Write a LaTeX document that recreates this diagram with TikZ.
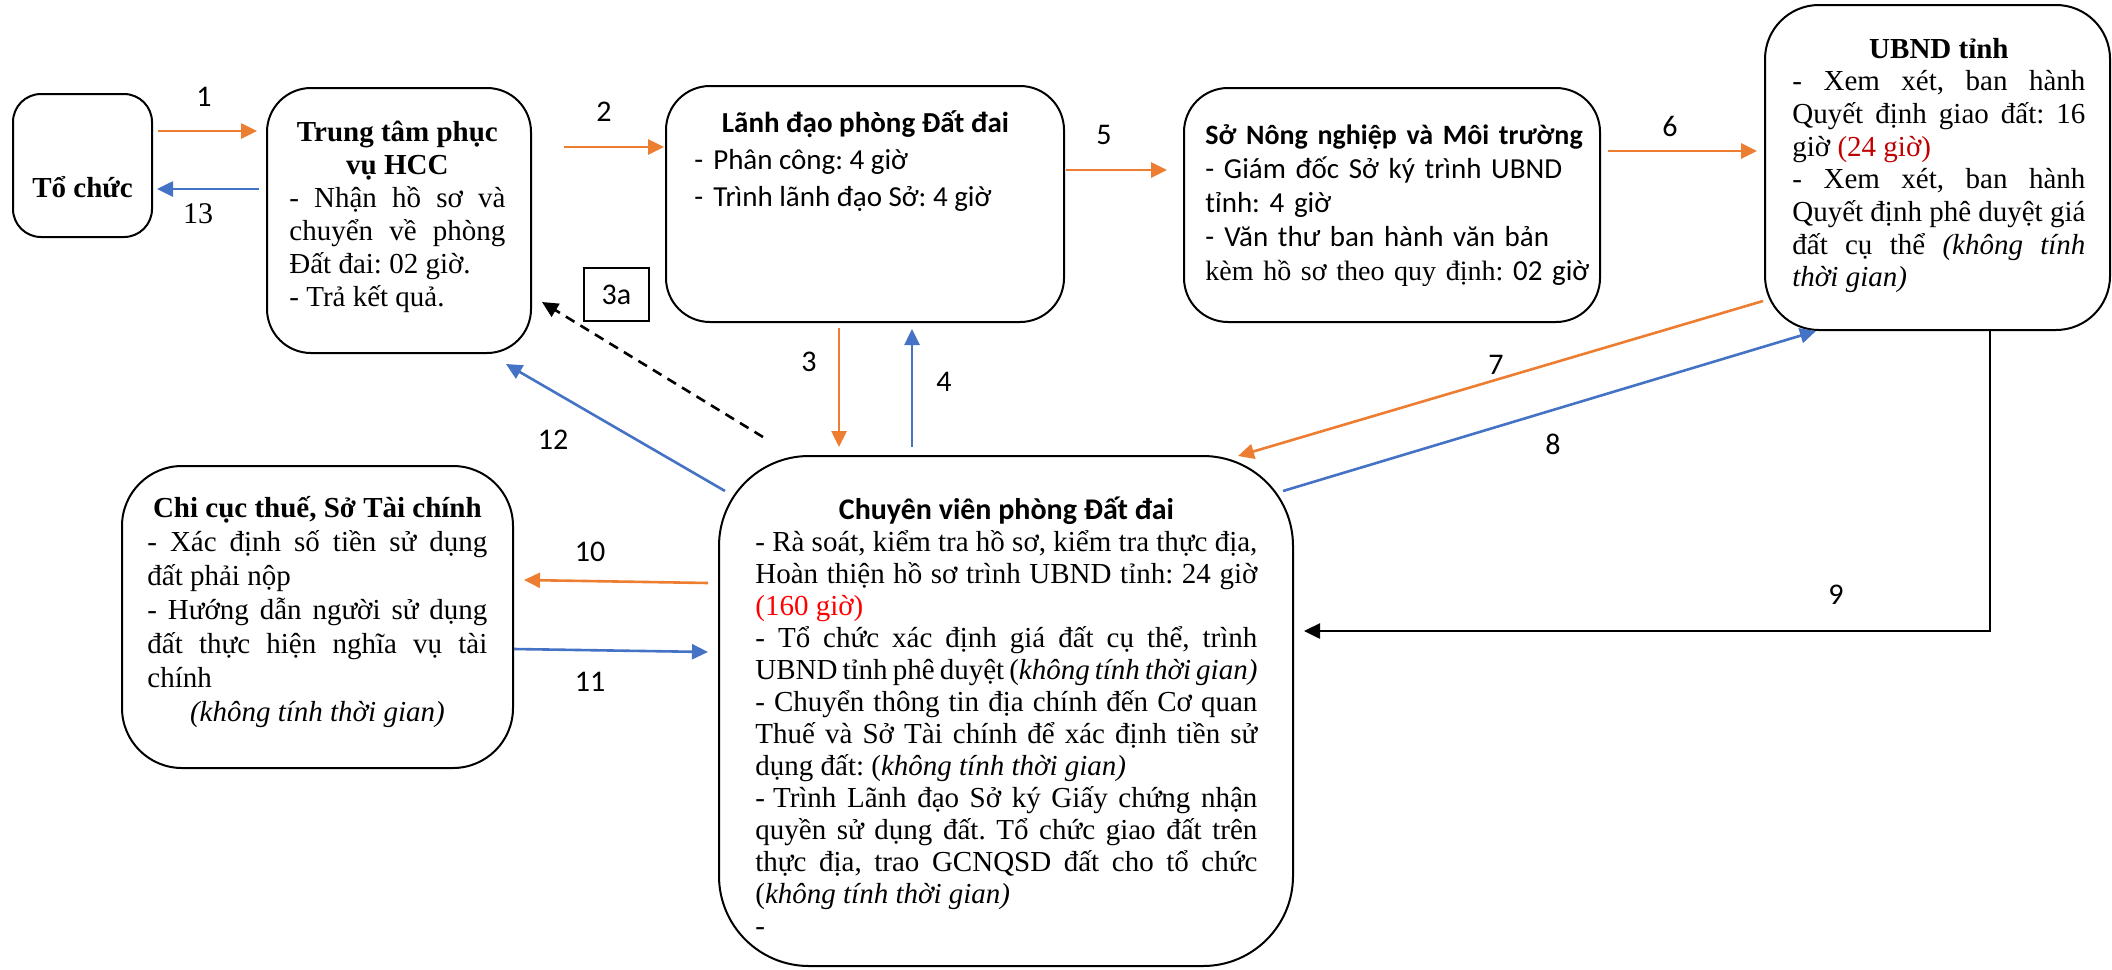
\documentclass[tikz,border=0pt]{standalone}
\usepackage{fontspec}
\setmainfont{Liberation Serif}
\newfontfamily\calibri{Carlito}
\usepackage{xcolor}
\usetikzlibrary{arrows.meta,calc}
\definecolor{orangeA}{HTML}{ED7D31}
\definecolor{blueA}{HTML}{4472C4}
\definecolor{redA}{HTML}{C00000}
\hyphenpenalty=10000
\tolerance=10000
\frenchspacing
\tikzset{
	box/.style={draw,line width=1pt,rounded corners=#1,inner sep=0pt},
	box/.default=22pt,
	txt/.style={inner sep=0pt,anchor=base west,text width=#1,align=justify},
	lbl/.style={inner sep=0pt,font=\calibri\fontsize{15}{18}\selectfont},
	flow/.style={line width=1.3pt,-{Triangle[length=8pt,width=7.5pt]}},
}

\begin{document}
\begin{tikzpicture}[x=0.5pt,y=-0.5pt]
		\useasboundingbox (0,0) rectangle (2112,969);
		% boxes
		\node[box=14pt,minimum width=69.5pt,minimum height=71.5pt] (TC) at (82.5,165.5) {};
		\node[box,minimum width=132pt,minimum height=132.5pt] (TT) at (399,220.5) {};
		\node[box,minimum width=199pt,minimum height=118pt] (LD) at (865,204) {};
		\node[box,minimum width=208pt,minimum height=117pt] (SNN) at (1392,205) {};
		\node[box=27pt,minimum width=172.5pt,minimum height=162.5pt] (UB) at (1937.5,167.5) {};
		\node[box=30pt,minimum width=195.5pt,minimum height=151pt] (CC) at (317.5,617) {};
		\node[box=45pt,minimum width=287pt,minimum height=255pt] (CV) at (1006,711) {};
		\node[draw,line width=0.75pt,minimum width=32.5pt,minimum height=26.5pt,
			font=\calibri\fontsize{15}{18}\selectfont] (B3a) at (616.5,294.5) {3a};
		%
		\node[inner sep=0pt,anchor=base,font=\bfseries\fontsize{14.5}{16}\selectfont] (TCt) at (82.5,197) {Tổ chức};
		\node[txt=108pt,font=\fontsize{14.5}{16.5}\selectfont] (TTt) at (289,141)
			{{\centering\bfseries Trung tâm phục\\ vụ HCC\par}
			- Nhận hồ sơ và\linebreak chuyển về phòng\linebreak Đất đai: 02 giờ.\\
			- Trả kết quả.};
		\node[txt=171pt,font=\calibri\fontsize{14.5}{18.5}\selectfont] (LDt) at (694,132)
			{{\centering\bfseries Lãnh đạo phòng Đất đai\par}
			-\hspace{5pt}Phân công: 4 giờ\\
			-\hspace{5pt}Trình lãnh đạo Sở: 4 giờ};
		\node[txt=250pt,align=left,font=\calibri\fontsize{14.5}{17}\selectfont] (SNNt) at (1205,144)
			{{\bfseries\fontsize{14}{17}\selectfont Sở Nông nghiệp và Môi trường}\\
			- Giám đốc Sở ký trình UBND\\
			tỉnh: 4 giờ\\
			-\hspace{5pt}Văn thư ban hành văn bản\\
			{\rmfamily\fontsize{14}{17}\selectfont kèm hồ sơ theo quy định: }02 giờ};
		\node[txt=146.5pt,font=\fontsize{14.5}{16.35}\selectfont] (UBt) at (1792,58)
			{{\centering\bfseries UBND tỉnh\par}
			- Xem xét, ban hành\linebreak Quyết định giao đất: 16\linebreak giờ {\color{redA}(24 giờ)}\\
			- Xem xét, ban hành\linebreak Quyết định phê duyệt giá\linebreak đất cụ thể \textit{(không tính\linebreak thời gian)}};
		\node[txt=170pt,font=\fontsize{14.5}{17}\selectfont] (CCt) at (147,517)
			{{\centering\bfseries Chi cục thuế, Sở Tài chính\par}
			- Xác định số tiền sử dụng\linebreak đất phải nộp\\
			- Hướng dẫn người sử dụng\linebreak đất thực hiện nghĩa vụ tài\linebreak chính\par
			{\centering\itshape (không tính thời gian)\par}};
		\node[txt=251pt,font=\fontsize{14.5}{16}\selectfont] (CVt) at (755,519)
			{{\centering\calibri\bfseries\fontsize{15}{16.5}\selectfont Chuyên viên phòng Đất đai\par}
			- Rà soát, kiểm tra hồ sơ, kiểm tra thực địa,\linebreak Hoàn thiện hồ sơ trình UBND tỉnh: 24 giờ\linebreak {\color{red}(160 giờ)}\\
			- Tổ chức xác định giá đất cụ thể, trình\linebreak UBND tỉnh phê duyệt (\textit{không tính thời gian)}\\
			- Chuyển thông tin địa chính đến Cơ quan\linebreak Thuế và Sở Tài chính để xác định tiền sử\linebreak dụng đất: (\textit{không tính thời gian)}\\
			-\hspace{4pt}Trình Lãnh đạo Sở ký Giấy chứng nhận\linebreak quyền sử dụng đất. Tổ chức giao đất trên\linebreak thực địa, trao GCNQSD đất cho tổ chức\linebreak (\textit{không tính thời gian)}\\
			-};
		%
		% connectors
		\draw[flow,orangeA] ($(TC.east)+(5,-34.5)$) -- ($(TT.west)+(-9,-89.5)$);
		\draw[flow,blueA] ($(TT.west)+(-7,-31.5)$) -- ($(TC.east)+(4,23.5)$);
		\draw[flow,orangeA] ($(TT.east)+(32,-73.5)$) -- ($(LD.west)+(-1,-57)$);
		\draw[flow,orangeA] ($(LD.south)+(-26,5)$) -- ($(CV.north)+(-167,-8)$);
		\draw[flow,blueA] ($(CV.north)+(-94,-8)$) -- ($(LD.south)+(47,6)$);
		\draw[flow,orangeA] ($(LD.east)+(1,-34)$) -- ($(SNN.west)+(-16,-35)$);
		\draw[flow,orangeA] ($(SNN.east)+(7,-54)$) -- ($(UB.west)+(-7,-16.5)$);
		\draw[flow,orangeA] ($(UB.south west)+(-1,-30)$) -- ($(CV.north east)+(-56,1)$);
		\draw[flow,blueA] ($(CV.north east)+(-11,36)$) -- ($(UB.south west)+(52,0)$);
		\draw[flow,black] ($(UB.south west)+(226,0)$) |- ($(CV.east)+(10,-80)$);
		\draw[flow,orangeA] ($(CV.west)+(-10,-128)$) -- ($(CC.east)+(10,-37)$);
		\draw[flow,blueA] ($(CC.east)+(0,32)$) -- ($(CV.west)+(-10,-59)$);
		\draw[flow,blueA] ($(CV.north west)+(7,36)$) -- ($(TT.south east)+(-26,10)$);
		\draw[flow,black,dash pattern=on 5pt off 3.5pt] ($(CV.north west)+(45,-18)$) -- ($(TT.east)+(10,81.5)$);
		%
		% step numbers
		\node[lbl] (n1) at (204,97) {1};
		\node[inner sep=0pt,font=\fontsize{15}{18}\selectfont] (n13) at (198,214) {13};
		\node[lbl] (n2) at (604,112) {2};
		\node[lbl] (n3) at (809,362) {3};
		\node[lbl] (n4) at (944,382) {4};
		\node[lbl] (n5) at (1104,135) {5};
		\node[lbl] (n6) at (1670,126) {6};
		\node[lbl] (n7) at (1496,365) {7};
		\node[lbl] (n8) at (1553,444) {8};
		\node[lbl] (n9) at (1836,595) {9};
		\node[lbl] (n10) at (590,552) {10};
		\node[lbl] (n11) at (590,682) {11};
		\node[lbl] (n12) at (553,440) {12};
	\end{tikzpicture}
\end{document}
